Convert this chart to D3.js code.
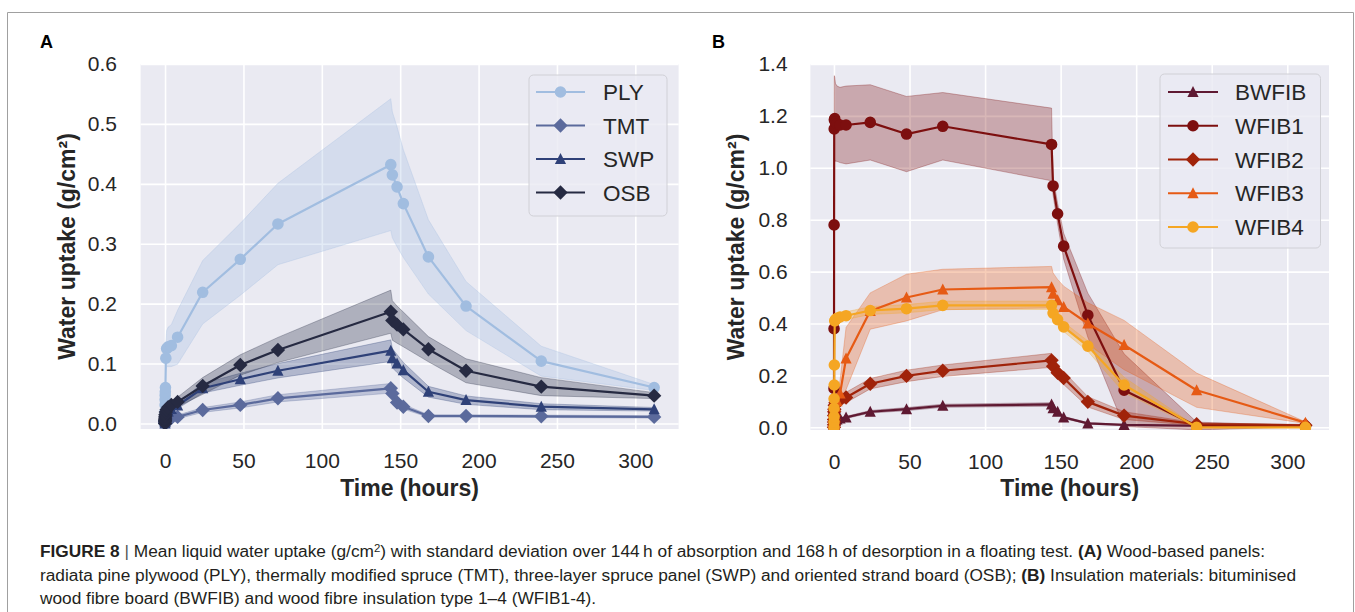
<!DOCTYPE html>
<html>
<head>
<meta charset="utf-8">
<script src="https://cdn.jsdelivr.net/npm/d3@7"></script>
<style>
  body { margin: 0; background: #fff; }
  svg { display: block; font-family: "Liberation Sans", Arial, sans-serif; }
</style>
</head>
<body>
<svg id="fig" width="1355" height="612"></svg>
<script>
// measurement times (hours): 144 h absorption, then 168 h desorption
const times = [0, 0.017, 0.033, 0.05, 0.083, 0.167, 0.25, 0.5, 1, 2, 4, 8, 24, 48, 72, 144, 145, 148, 152, 168, 192, 240, 312];

const xTicks = [0, 50, 100, 150, 200, 250, 300];
const yTicksA = [0, 0.1, 0.2, 0.3, 0.4, 0.5, 0.6];
const yTicksB = [0, 0.2, 0.4, 0.6, 0.8, 1.0, 1.2, 1.4];

const namesA = ["PLY", "TMT", "SWP", "OSB"];
const namesB = ["BWFIB", "WFIB1", "WFIB2", "WFIB3", "WFIB4"];

// panel A - wood based panels (mean, sd) g/cm2
const plyMean = [0, 0.02, 0.031, 0.04, 0.047, 0.053, 0.06, 0.109, 0.125, 0.128, 0.13, 0.144, 0.219, 0.274, 0.333, 0.432, 0.415, 0.395, 0.367, 0.278, 0.196, 0.104, 0.06];
const plySd   = [0, 0.008, 0.012, 0.015, 0.018, 0.02, 0.022, 0.025, 0.03, 0.033, 0.035, 0.045, 0.053, 0.06, 0.068, 0.11, 0.105, 0.1, 0.09, 0.062, 0.041, 0.025, 0.005];
const tmtMean = [0, 0.001, 0.0015, 0.002, 0.003, 0.004, 0.005, 0.006, 0.007, 0.008, 0.009, 0.011, 0.0225, 0.031, 0.042, 0.0587, 0.05, 0.035, 0.028, 0.0125, 0.0125, 0.012, 0.011];
const tmtSd   = [0, 0.0005, 0.0008, 0.001, 0.001, 0.0012, 0.0015, 0.0018, 0.002, 0.002, 0.0025, 0.003, 0.004, 0.005, 0.006, 0.008, 0.007, 0.006, 0.004, 0.002, 0.002, 0.002, 0.002];
const swpMean = [0, 0.002, 0.003, 0.004, 0.006, 0.008, 0.01, 0.013, 0.016, 0.02, 0.024, 0.03, 0.0588, 0.0738, 0.088, 0.1216, 0.109, 0.1, 0.089, 0.053, 0.039, 0.028, 0.0237];
const swpSd   = [0, 0.001, 0.001, 0.001, 0.0015, 0.002, 0.0025, 0.003, 0.0035, 0.004, 0.0045, 0.005, 0.008, 0.01, 0.012, 0.018, 0.016, 0.015, 0.013, 0.009, 0.007, 0.005, 0.003];
const osbMean = [0, 0.003, 0.005, 0.007, 0.009, 0.012, 0.015, 0.019, 0.023, 0.027, 0.031, 0.036, 0.0626, 0.0977, 0.1227, 0.1866, 0.172, 0.165, 0.157, 0.124, 0.088, 0.0615, 0.0465];
const osbSd   = [0, 0.001, 0.0015, 0.002, 0.0025, 0.003, 0.0035, 0.004, 0.005, 0.006, 0.007, 0.008, 0.014, 0.017, 0.021, 0.036, 0.033, 0.031, 0.029, 0.021, 0.02, 0.015, 0.005];

// panel B - insulation materials
const bwfibMean = [0, 0.002, 0.004, 0.006, 0.008, 0.012, 0.015, 0.02, 0.025, 0.03, 0.034, 0.038, 0.06, 0.07, 0.083, 0.088, 0.073, 0.06, 0.038, 0.015, 0.009, 0.006, 0.005];
const bwfibSd   = [0, 0.001, 0.001, 0.0015, 0.002, 0.002, 0.0025, 0.003, 0.003, 0.0035, 0.004, 0.004, 0.005, 0.006, 0.006, 0.007, 0.006, 0.005, 0.004, 0.003, 0.002, 0.002, 0.001];
const wfib1Mean = [0, 0.05, 0.15, 0.38, 0.78, 1.15, 1.185, 1.19, 1.175, 1.17, 1.165, 1.165, 1.175, 1.13, 1.16, 1.09, 0.93, 0.823, 0.698, 0.432, 0.143, 0.005, 0.004];
const wfib1Sd   = [0, 0.01, 0.03, 0.06, 0.12, 0.2, 0.17, 0.16, 0.15, 0.145, 0.145, 0.15, 0.145, 0.145, 0.13, 0.14, 0.035, 0.04, 0.05, 0.085, 0.14, 0.015, 0.002];
const wfib2Mean = [0, 0.01, 0.02, 0.03, 0.045, 0.06, 0.07, 0.085, 0.095, 0.1, 0.105, 0.115, 0.168, 0.198, 0.218, 0.258, 0.235, 0.21, 0.19, 0.098, 0.045, 0.012, 0.008];
const wfib2Sd   = [0, 0.003, 0.005, 0.008, 0.01, 0.012, 0.014, 0.016, 0.018, 0.02, 0.02, 0.02, 0.02, 0.022, 0.022, 0.027, 0.025, 0.025, 0.025, 0.02, 0.015, 0.005, 0.003];
const wfib3Mean = [0, 0.005, 0.01, 0.015, 0.02, 0.03, 0.04, 0.06, 0.08, 0.1, 0.13, 0.265, 0.448, 0.5, 0.531, 0.54, 0.515, 0.49, 0.464, 0.4, 0.317, 0.143, 0.018];
const wfib3Sd   = [0, 0.002, 0.004, 0.006, 0.008, 0.01, 0.012, 0.015, 0.02, 0.03, 0.05, 0.12, 0.07, 0.09, 0.078, 0.08, 0.08, 0.08, 0.08, 0.08, 0.095, 0.066, 0.003];
const wfib4Mean = [0, 0.02, 0.04, 0.073, 0.11, 0.163, 0.24, 0.41, 0.415, 0.42, 0.425, 0.43, 0.45, 0.457, 0.47, 0.47, 0.44, 0.415, 0.387, 0.313, 0.163, 0.0, 0.0];
const wfib4Sd   = [0, 0.003, 0.005, 0.008, 0.01, 0.012, 0.015, 0.015, 0.015, 0.015, 0.015, 0.015, 0.015, 0.016, 0.016, 0.016, 0.016, 0.016, 0.018, 0.02, 0.03, 0.002, 0.001];

const svg = d3.select("#fig");
const txt = "#262626";

// matplotlib-like marker paths
function marker(kind) {
  if (kind === "o") return d3.symbol(d3.symbolCircle, Math.PI * 5.8 * 5.8)();
  if (kind === "D") return "M0,-7.2L7.2,0L0,7.2L-7.2,0Z";
  return "M0,-6L5.6,5L-5.6,5Z";
}

const seriesA = [
  { name: namesA[0], mean: plyMean, sd: plySd, color: "#a1bde0", m: "o" },
  { name: namesA[1], mean: tmtMean, sd: tmtSd, color: "#5b6a9c", m: "D" },
  { name: namesA[2], mean: swpMean, sd: swpSd, color: "#2f4178", m: "^" },
  { name: namesA[3], mean: osbMean, sd: osbSd, color: "#262a42", m: "D" }
];
const seriesB = [
  { name: namesB[0], mean: bwfibMean, sd: bwfibSd, color: "#5f1932", m: "^" },
  { name: namesB[1], mean: wfib1Mean, sd: wfib1Sd, color: "#7d0f0f", m: "o" },
  { name: namesB[2], mean: wfib2Mean, sd: wfib2Sd, color: "#a0230a", m: "D" },
  { name: namesB[3], mean: wfib3Mean, sd: wfib3Sd, color: "#e65a14", m: "^" },
  { name: namesB[4], mean: wfib4Mean, sd: wfib4Sd, color: "#f5a623", m: "o" }
];

function panel(p) {
  const x = d3.scaleLinear().domain([-15.6, 327.6]).range([p.left, p.right]);
  const y = d3.scaleLinear().domain(p.yDomain).range([p.bottom, p.top]);
  const g = svg.append("g");

  g.append("rect")
    .attr("x", p.left).attr("y", p.top)
    .attr("width", p.right - p.left).attr("height", p.bottom - p.top)
    .attr("fill", "#eaeaf2");

  // grid
  g.append("g")
    .attr("transform", `translate(0,${p.bottom})`)
    .call(d3.axisBottom(x).tickValues(xTicks).tickSize(-(p.bottom - p.top)).tickFormat(""))
    .call(a => a.select(".domain").remove())
    .selectAll("line").attr("stroke", "#fff").attr("stroke-width", 1.6);
  g.append("g")
    .attr("transform", `translate(${p.left},0)`)
    .call(d3.axisLeft(y).tickValues(p.yTicks).tickSize(-(p.right - p.left)).tickFormat(""))
    .call(a => a.select(".domain").remove())
    .selectAll("line").attr("stroke", "#fff").attr("stroke-width", 1.6);

  // tick labels
  const xa = g.append("g")
    .attr("transform", `translate(0,${p.bottom})`)
    .call(d3.axisBottom(x).tickValues(xTicks).tickSize(0).tickPadding(24.5));
  xa.select(".domain").remove();
  xa.selectAll("text").attr("font-size", 21).attr("fill", txt).attr("font-family", null);

  const ya = g.append("g")
    .attr("transform", `translate(${p.left},0)`)
    .call(d3.axisLeft(y).tickValues(p.yTicks).tickSize(0).tickPadding(p.left - p.tickRight).tickFormat(d3.format(".1f")));
  ya.select(".domain").remove();
  ya.selectAll("text").attr("font-size", 21).attr("fill", txt).attr("font-family", null);

  // data
  const clipId = "clip" + p.letter;
  svg.append("clipPath").attr("id", clipId).append("rect")
    .attr("x", p.left).attr("y", p.top)
    .attr("width", p.right - p.left).attr("height", p.bottom - p.top);
  const plot = g.append("g").attr("clip-path", `url(#${clipId})`);

  const area = d3.area()
    .x((d, i) => x(times[i]))
    .y0(d => y(d.lo)).y1(d => y(d.hi));
  const line = d3.line().x((d, i) => x(times[i])).y(d => y(d));

  p.series.forEach(s => {
    plot.append("path")
      .datum(s.mean.map((m, i) => ({ lo: m - s.sd[i], hi: m + s.sd[i] })))
      .attr("d", area)
      .attr("fill", s.color).attr("fill-opacity", 0.3)
      .attr("stroke", s.color).attr("stroke-opacity", 0.3).attr("stroke-width", 1);
  });
  p.series.forEach(s => {
    plot.append("path").datum(s.mean).attr("d", line)
      .attr("fill", "none").attr("stroke", s.color).attr("stroke-width", 2.2)
      .attr("stroke-linejoin", "round");
    plot.selectAll(null).data(s.mean).enter().append("path")
      .attr("d", marker(s.m))
      .attr("transform", (d, i) => `translate(${x(times[i])},${y(d)})`)
      .attr("fill", s.color);
  });

  // legend
  const lg = g.append("g");
  lg.append("rect")
    .attr("x", p.legend.x).attr("y", p.legend.y)
    .attr("width", p.legend.w).attr("height", p.legend.h)
    .attr("rx", 4.5)
    .attr("fill", "#eaeaf2").attr("fill-opacity", 0.8)
    .attr("stroke", "#d0d0d6").attr("stroke-width", 1);
  p.series.forEach((s, i) => {
    const cy = p.legend.y0 + i * p.legend.step;
    lg.append("line")
      .attr("x1", p.legend.h0).attr("x2", p.legend.h1)
      .attr("y1", cy).attr("y2", cy)
      .attr("stroke", s.color).attr("stroke-width", 2.2);
    lg.append("path").attr("d", marker(s.m))
      .attr("transform", `translate(${(p.legend.h0 + p.legend.h1) / 2},${cy})`)
      .attr("fill", s.color);
    lg.append("text")
      .attr("x", p.legend.tx).attr("y", cy).attr("dy", "0.36em")
      .attr("font-size", 22.5).attr("fill", txt)
      .text(s.name);
  });

  // axis labels + panel letter
  g.append("text")
    .attr("x", (p.left + p.right) / 2).attr("y", 496)
    .attr("text-anchor", "middle").attr("font-size", 23).attr("font-weight", "bold").attr("fill", txt)
    .text("Time (hours)");
  const cyMid = (p.top + p.bottom) / 2;
  g.append("text")
    .attr("transform", `translate(${p.ylabX},${cyMid}) rotate(-90)`)
    .attr("text-anchor", "middle").attr("font-size", 23).attr("font-weight", "bold").attr("fill", txt)
    .text("Water uptake (g/cm²)");
  g.append("text")
    .attr("x", p.letterX).attr("y", 48)
    .attr("font-size", 18).attr("font-weight", "bold").attr("fill", "#000")
    .text(p.letter);
}

panel({
  letter: "A", letterX: 40,
  left: 140.6, right: 678.6, top: 64, bottom: 429,
  yDomain: [-0.0092, 0.6], yTicks: yTicksA, tickRight: 117, ylabX: 75,
  series: seriesA,
  legend: { x: 529, y: 75, w: 138, h: 141, y0: 92, step: 33.5, h0: 536, h1: 585, tx: 603 }
});
panel({
  letter: "B", letterX: 712,
  left: 810.4, right: 1329, top: 64, bottom: 430,
  yDomain: [-0.0104, 1.4], yTicks: yTicksB, tickRight: 787.6, ylabX: 744,
  series: seriesB,
  legend: { x: 1160, y: 74, w: 160.5, h: 174, y0: 92, step: 33.75, h0: 1168, h1: 1218, tx: 1235 }
});

// frame
svg.append("path")
  .attr("d", "M7.5,612V12.5H1353.5V612")
  .attr("fill", "none").attr("stroke", "#a0a0a0").attr("stroke-width", 1);

// caption
const cap = svg.append("g").attr("fill", "#231f20")
  .attr("font-family", "'Liberation Sans Narrow', 'Arial Narrow', 'Liberation Sans', sans-serif");
const capLines = [];
let t = cap.append("text").attr("x", 40).attr("y", 557);
t.append("tspan").attr("font-weight", "bold").text("FIGURE 8");
t.append("tspan").attr("fill", "#555").text(" | ");
t.append("tspan").text("Mean liquid water uptake (g/cm");
t.append("tspan").attr("class", "sup").attr("dy", -5).text("2");
t.append("tspan").attr("dy", 5).text(") with standard deviation over 144\u2009h of absorption and 168\u2009h of desorption in a floating test. ");
t.append("tspan").attr("font-weight", "bold").text("(A)");
t.append("tspan").text(" Wood-based panels:");
capLines.push([t, 1222]);
t = cap.append("text").attr("x", 40).attr("y", 581);
t.append("tspan").text("radiata pine plywood (PLY), thermally modified spruce (TMT), three-layer spruce panel (SWP) and oriented strand board (OSB); ");
t.append("tspan").attr("font-weight", "bold").text("(B)");
t.append("tspan").text(" Insulation materials: bituminised");
capLines.push([t, 1257]);
t = cap.append("text").attr("x", 40).attr("y", 604);
t.text("wood fibre board (BWFIB) and wood fibre insulation type 1\u20134 (WFIB1-4).");
capLines.push([t, 564]);

// size caption so that the long second line spans its width
capLines.forEach(([el]) => el.attr("font-size", 15));
cap.selectAll(".sup").attr("font-size", 10);
const natural = capLines[1][0].node().getComputedTextLength();
const fs = Math.min(19, 15 * capLines[1][1] / natural);
capLines.forEach(([el]) => el.attr("font-size", fs));
cap.selectAll(".sup").attr("font-size", fs * 0.66);
</script>
</body>
</html>
